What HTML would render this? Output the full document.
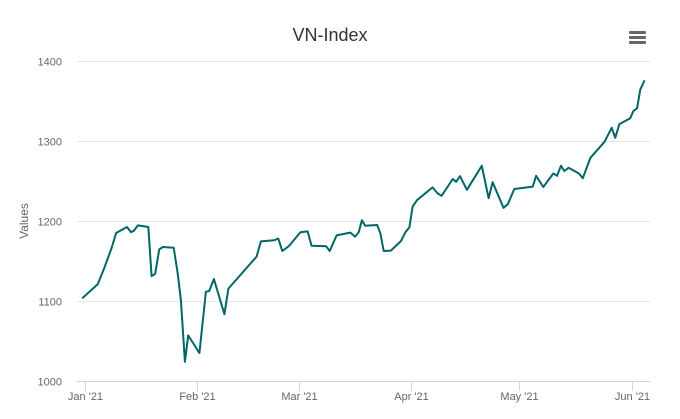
<!DOCTYPE html>
<html><head><meta charset="utf-8"><style>
html,body{margin:0;padding:0;background:#fff;}
svg{display:block;font-family:"Liberation Sans",Arial,sans-serif;}
</style></head><body>
<svg id="chart" width="680" height="419" viewBox="0 0 680 419">
<rect x="0" y="0" width="680" height="419" fill="#fff"/>
<text x="330" y="41" text-anchor="middle" font-size="18" fill="#333">VN-Index</text>
<g>
<rect x="629" y="31" width="17" height="3" rx="1" fill="#666"/>
<rect x="629" y="36" width="17" height="3" rx="1" fill="#666"/>
<rect x="629" y="41" width="17" height="3" rx="1" fill="#666"/>
</g>
<text transform="translate(28,221) rotate(-90)" text-anchor="middle" font-size="12" fill="#666">Values</text>
<g id="grid"></g>
<g id="xaxis"></g>
<g id="series"></g>
</svg>
<script>
const yTicks = [1000, 1100, 1200, 1300, 1400];
const xTickDays = [0, 31, 59, 90, 120, 151];
const xTickLabels = ["Jan '21", "Feb '21", "Mar '21", "Apr '21", "May '21", "Jun '21"];
const days = [-0.6,3.5,5.3,7.4,8.6,11.6,12.7,13.5,14.6,17.5,18.4,19.4,20.5,21.5,24.5,25.6,26.5,27.6,28.5,31.6,33.4,34.3,35.6,38.5,39.6,47.4,48.6,52.3,53.4,54.5,56.4,59.5,61.5,62.6,66.6,67.6,69.5,73.3,74.6,75.6,76.5,77.4,79.0,80.7,81.6,82.5,84.5,87.3,88.5,89.6,90.5,91.7,96.0,97.4,98.5,101.6,102.5,103.6,105.5,109.6,111.5,112.6,115.6,116.8,118.6,123.7,124.6,126.6,129.4,130.4,131.5,132.4,133.6,136.4,137.5,139.6,140.7,143.5,145.5,146.5,147.6,150.6,151.5,152.5,153.4,154.5];
const values = [1104,1121,1141,1167,1185,1192.5,1186,1188,1194.5,1192.5,1131,1134,1164.5,1167.5,1166.5,1134.5,1101,1024,1057,1035,1111.5,1112.5,1127.5,1083.5,1115.5,1155.5,1174.5,1176,1178,1162.5,1169,1186,1187,1169,1168.5,1162.5,1182,1185.5,1180.5,1186,1201,1194,1194.5,1195,1184.5,1162.5,1163,1175,1186,1192,1218,1226,1242,1234.5,1231.5,1252.5,1249,1256,1239,1269,1228.5,1248.5,1216.5,1221,1240,1243,1256.5,1242.5,1259.5,1256.5,1269,1262.5,1266.5,1259.5,1253.5,1279,1284.5,1299,1316.5,1304,1321,1328.5,1337.5,1341,1364.5,1375];

const NS = "http://www.w3.org/2000/svg";
const plotL = 77, plotR = 650, yTop = 61, yBot = 381;
function yScale(v){ return yBot - (v - 1000) * (yBot - yTop) / 400; }
function xScale(d){ return 85 + d * 3.62; }

const grid = document.getElementById('grid');
yTicks.forEach(v => {
  const y = Math.round(yScale(v)) + 0.5;
  if (v !== 1000) {
    const l = document.createElementNS(NS, 'line');
    l.setAttribute('x1', plotL); l.setAttribute('x2', plotR);
    l.setAttribute('y1', y); l.setAttribute('y2', y);
    l.setAttribute('stroke', '#e6e6e6'); l.setAttribute('stroke-width', '1');
    
    
    grid.appendChild(l);
  }
  const t = document.createElementNS(NS, 'text');
  t.setAttribute('x', 62); t.setAttribute('y', y + 4);
  t.setAttribute('text-anchor', 'end'); t.setAttribute('font-size', '11'); t.setAttribute('fill', '#666');
  t.textContent = v;
  
  
  grid.appendChild(t);
});

const xa = document.getElementById('xaxis');
const axisLine = document.createElementNS(NS, 'line');
axisLine.setAttribute('x1', plotL); axisLine.setAttribute('x2', plotR);
axisLine.setAttribute('y1', yBot + 0.5); axisLine.setAttribute('y2', yBot + 0.5);
axisLine.setAttribute('stroke', '#ccd6eb');


xa.appendChild(axisLine);
xTickDays.forEach((d, i) => {
  const x = Math.round(xScale(d)) + 0.5;
  const tk = document.createElementNS(NS, 'line');
  tk.setAttribute('x1', x); tk.setAttribute('x2', x);
  tk.setAttribute('y1', yBot); tk.setAttribute('y2', yBot + 10);
  tk.setAttribute('stroke', '#ccd6eb');
  
  
  xa.appendChild(tk);
  const t = document.createElementNS(NS, 'text');
  t.setAttribute('x', x); t.setAttribute('y', 400);
  t.setAttribute('text-anchor', 'middle'); t.setAttribute('font-size', '11'); t.setAttribute('fill', '#666');
  t.textContent = xTickLabels[i];
  
  
  xa.appendChild(t);
});

const s = document.getElementById('series');
const p = document.createElementNS(NS, 'path');
p.setAttribute('d', days.map((d, i) => (i ? 'L' : 'M') + xScale(d).toFixed(1) + ' ' + yScale(values[i]).toFixed(1)).join(' '));
p.setAttribute('fill', 'none'); p.setAttribute('stroke', '#006666');
p.setAttribute('stroke-width', '2'); p.setAttribute('stroke-linejoin', 'round'); p.setAttribute('stroke-linecap', 'round');


s.appendChild(p);
</script>
</body></html>
